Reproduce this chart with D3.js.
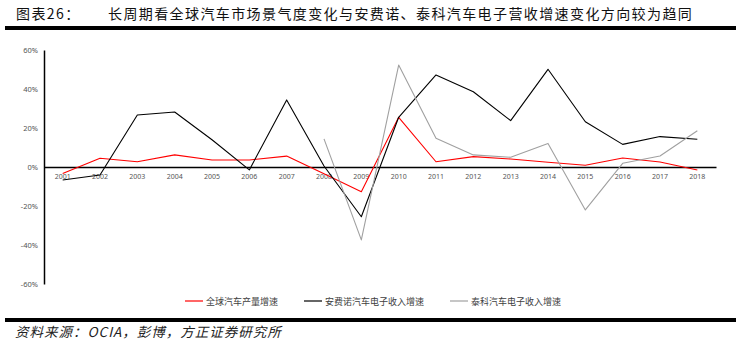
<!DOCTYPE html>
<head>
  <meta charset="utf-8">
  <script src="https://d3js.org/d3.v7.min.js"></script>
  <style>
    body { margin: 0; background: #fff; }
    svg { display: block; }
    .title { font-family: "Noto Sans CJK SC", sans-serif; font-size: 14px; fill: #111; letter-spacing: 1.4px; }
    .source { font-family: "Noto Sans CJK SC", sans-serif; font-size: 13.5px; fill: #222; font-style: italic; letter-spacing: 1px; }
    .tick text { font-family: "Noto Sans", "Noto Sans CJK SC", sans-serif; fill: #555; }
    .legend text { font-family: "Noto Sans CJK SC", sans-serif; font-size: 9px; fill: #404040; }
    .line { fill: none; stroke-width: 1.1px; stroke-linejoin: round; }
  </style>
</head>
<body>
<div id="chart"></div>
<script>
// data (growth in %)
var years = ['2001','2002','2003','2004','2005','2006','2007','2008','2009',
             '2010','2011','2012','2013','2014','2015','2016','2017','2018'];
var globalProd = [-3.3, 4.5, 2.7, 6.2, 3.6, 3.6, 5.6, -3.5, -12.7,
                  25.5, 2.7, 5.3, 4.1, 2.4, 0.9, 4.6, 2.6, -1.5];
var aptiv = [-6.7, -4.1, 26.7, 28.2, 14.0, -1.5, 34.4, 0.5, -25.5,
             25.5, 47.2, 38.6, 23.8, 50.1, 23.2, 11.6, 15.6, 14.2];
var teAuto = [null, null, null, null, null, null, null, 14.4, -37.4,
              52.3, 14.7, 6.2, 5.0, 12.1, -22.0, 1.9, 5.6, 18.6];
var yTicks = [-60, -40, -20, 0, 20, 40, 60];

var series = [
  {name: '全球汽车产量增速', values: globalProd, color: '#ff0000'},
  {name: '安费诺汽车电子收入增速', values: aptiv, color: '#000000'},
  {name: '泰科汽车电子收入增速', values: teAuto, color: '#a0a0a0'}
];

var width = 741, height = 351;

var svg = d3.select('#chart').append('svg')
    .attr('width', width)
    .attr('height', height);

// title block
svg.append('text').attr('class', 'title').attr('x', 16).attr('y', 19).text('图表26：');
svg.append('text').attr('class', 'title').attr('x', 108).attr('y', 19)
    .text('长周期看全球汽车市场景气度变化与安费诺、泰科汽车电子营收增速变化方向较为趋同');
svg.append('rect').attr('x', 5).attr('y', 26).attr('width', 731).attr('height', 4).attr('fill', '#000');

// scales
var x = d3.scaleBand().domain(years).range([44, 716]);
var y = d3.scaleLinear().domain([-60, 60]).range([284, 50]);

// y axis
var yAxis = svg.append('g')
    .attr('transform', 'translate(44,0)')
    .call(d3.axisLeft(y).tickValues(yTicks).tickSize(0).tickPadding(6)
      .tickFormat(function(d) { return d + '%'; }));
yAxis.select('.domain').attr('stroke', '#000').attr('stroke-width', 1.5);
yAxis.selectAll('text').style('font-size', '7.5px');

// x axis at zero
var xAxis = svg.append('g')
    .attr('transform', 'translate(0,' + y(0) + ')')
    .call(d3.axisBottom(x).tickSize(0).tickPadding(7));
xAxis.select('.domain').attr('stroke', '#000').attr('stroke-width', 1.5);
xAxis.selectAll('text').style('font-size', '7px');

// lines
var line = d3.line()
    .defined(function(d) { return d != null; })
    .x(function(d, i) { return x(years[i]) + x.bandwidth() / 2; })
    .y(function(d) { return y(d); });

svg.selectAll('.line')
    .data(series)
  .enter().append('path')
    .attr('class', 'line')
    .attr('stroke', function(d) { return d.color; })
    .attr('d', function(d) { return line(d.values); });

// legend
var legendX = [185, 304, 450];
var legend = svg.append('g').attr('class', 'legend');
series.forEach(function(s, i) {
  legend.append('line')
      .attr('x1', legendX[i]).attr('x2', legendX[i] + 18)
      .attr('y1', 301).attr('y2', 301)
      .attr('stroke', s.color).attr('stroke-width', 1.2);
  legend.append('text')
      .attr('x', legendX[i] + 21).attr('y', 304.5)
      .text(s.name);
});

// footer
svg.append('rect').attr('x', 5).attr('y', 318).attr('width', 731).attr('height', 4).attr('fill', '#000');
svg.append('text').attr('class', 'source').attr('x', 15).attr('y', 337)
    .text('资料来源：OCIA，彭博，方正证券研究所');
</script>
</body>
